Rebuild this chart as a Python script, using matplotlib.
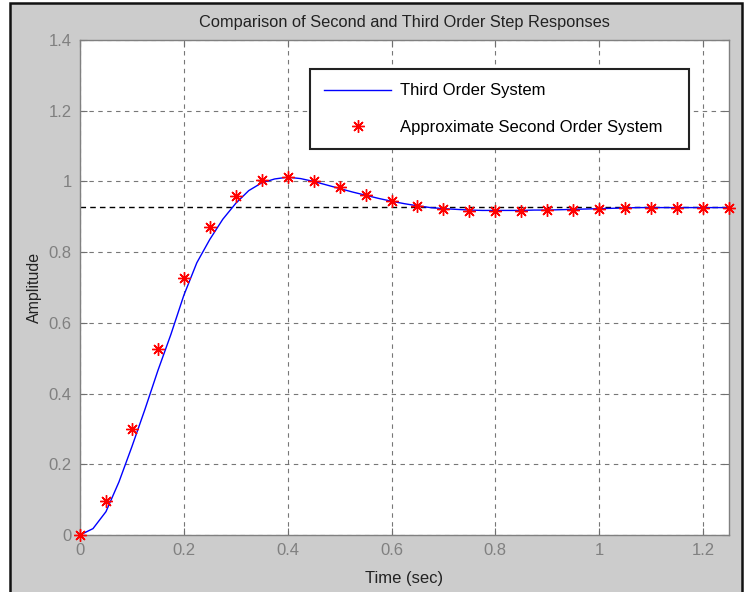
import matplotlib.pyplot as plt
from matplotlib.patches import Rectangle

plt.rcParams['font.family'] = ['Liberation Sans', 'DejaVu Sans']

# third order response
t_third = [0, 0.025, 0.05, 0.075, 0.1, 0.125, 0.15, 0.175, 0.2, 0.225,
           0.25, 0.275, 0.3, 0.325, 0.35, 0.375, 0.4, 0.425, 0.45, 0.475,
           0.5, 0.525, 0.55, 0.575, 0.6, 0.625, 0.65, 0.675, 0.7, 0.725,
           0.75, 0.775, 0.8, 0.825, 0.85, 0.875, 0.9, 0.925, 0.95, 0.975,
           1.0, 1.025, 1.05, 1.075, 1.1, 1.125, 1.15, 1.175, 1.2, 1.225, 1.25]
y_third = [0, 0.018, 0.066, 0.15, 0.25, 0.355, 0.465, 0.567, 0.678, 0.77,
           0.836, 0.893, 0.938, 0.974, 0.996, 1.007, 1.012, 1.008, 1.0, 0.99,
           0.98, 0.97, 0.961, 0.952, 0.944, 0.937, 0.931, 0.926, 0.923, 0.921,
           0.919, 0.918, 0.918, 0.918, 0.918, 0.919, 0.919, 0.92, 0.921, 0.922,
           0.923, 0.924, 0.925, 0.926, 0.926, 0.926, 0.926, 0.926, 0.926, 0.926, 0.926]

# approximate second order system samples
t_second = [0, 0.05, 0.1, 0.15, 0.2, 0.25, 0.3, 0.35, 0.4, 0.45, 0.5, 0.55,
            0.6, 0.65, 0.7, 0.75, 0.8, 0.85, 0.9, 0.95, 1.0, 1.05, 1.1,
            1.15, 1.2, 1.25]
y_second = [0, 0.096, 0.30, 0.526, 0.727, 0.871, 0.959, 1.004, 1.012, 1.001,
            0.984, 0.962, 0.945, 0.930, 0.922, 0.917, 0.916, 0.916, 0.919,
            0.920, 0.922, 0.925, 0.926, 0.926, 0.926, 0.926]

final_value = 0.927

xticks = [0, 0.2, 0.4, 0.6, 0.8, 1, 1.2]
yticks = [0, 0.2, 0.4, 0.6, 0.8, 1, 1.2, 1.4]

W, H = 744, 592
fig = plt.figure(figsize=(W / 100, H / 100), dpi=100)
fig.patch.set_facecolor('white')
# grey window with dark frame
fig.patches.append(Rectangle((10 / W, -0.01), 732 / W, 1.01 - 3 / H,
                             transform=fig.transFigure, facecolor='#cccccc',
                             edgecolor='#111111', lw=1.8, zorder=-10))

ax = fig.add_axes([80 / W, 1 - 535 / H, 649 / W, 495 / H])
ax.set_facecolor('white')

ax.plot(t_third, y_third, color='#0000ff', lw=1.0, label='Third Order System', zorder=3)
ax.plot(t_second, y_second, ls='none', marker=(8, 2, 0), ms=9, mew=1.0,
        color='#ff0000', label='Approximate Second Order System', zorder=4, clip_on=False)
ax.axhline(final_value, color='black', ls=(0, (4, 3)), lw=1.0, zorder=2)

ax.set_xlim(0, 1.25)
ax.set_ylim(0, 1.4)
ax.set_xticks(xticks)
ax.set_xticklabels(['0', '0.2', '0.4', '0.6', '0.8', '1', '1.2'])
ax.set_yticks(yticks)
ax.set_yticklabels(['0', '0.2', '0.4', '0.6', '0.8', '1', '1.2', '1.4'])

ax.grid(True, color='#555555', ls=(0, (4, 4)), lw=0.8, alpha=0.8)
ax.tick_params(direction='in', length=5, color='#707070', labelcolor='#808080',
               labelsize=12, top=True, right=True, pad=6)
for s in ax.spines.values():
    s.set_color('#808080')
    s.set_linewidth(1.0)

ax.set_title('Comparison of Second and Third Order Step Responses', fontsize=11.8,
             color='#222222', pad=9)
ax.set_xlabel('Time (sec)', fontsize=12, color='#222222', labelpad=9)
ax.set_ylabel('Amplitude', fontsize=11.5, color='#222222', labelpad=5)

# legend box stretched to the width seen in the reference
leg = ax.legend(loc='upper left', bbox_to_anchor=(0.3544, 0.5, 0.584, 0.441),
                mode='expand', fontsize=12,
                handlelength=4.0, handletextpad=0.55, borderpad=0.85,
                labelspacing=1.3, fancybox=False, framealpha=1,
                edgecolor='#222222', borderaxespad=0)
leg.get_frame().set_linewidth(1.5)

fig.savefig('out.png', dpi=100, facecolor=fig.get_facecolor())
